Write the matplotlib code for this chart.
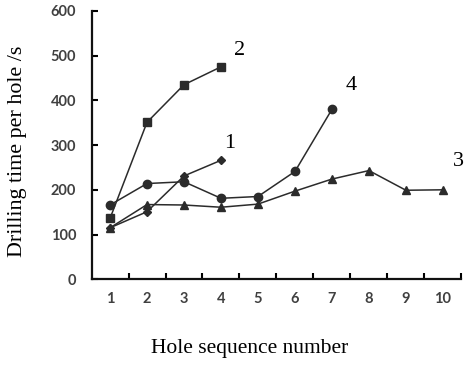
import matplotlib
matplotlib.use("Agg")
import matplotlib.pyplot as plt
from matplotlib.ticker import FixedLocator

holes = [1, 2, 3, 4, 5, 6, 7, 8, 9, 10]
curve1 = [115, 151, 231, 266]
curve2 = [136, 351, 435, 475]
curve3 = [115, 167, 166, 161, 168, 197, 224, 243, 199, 200]
curve4 = [166, 214, 218, 181, 185, 241, 380]
curve_labels = ["1", "2", "3", "4"]
yticks = [0, 100, 200, 300, 400, 500, 600]

fig = plt.figure(figsize=(4.67, 3.65), dpi=100)
ax = fig.add_axes([0.196, 0.235, 0.792, 0.735])

lc = "#2b2b2b"
kw = dict(color=lc, lw=1.1)
ax.plot(holes[:len(curve1)], curve1, marker="D", ms=4, **kw)
ax.plot(holes[:len(curve2)], curve2, marker="s", ms=6, **kw)
ax.plot(holes[:len(curve3)], curve3, marker="^", ms=6, **kw)
ax.plot(holes[:len(curve4)], curve4, marker="o", ms=6, **kw)

serif = "Liberation Serif"
tk = dict(fontsize=16, family=serif, ha="center", va="center", clip_on=False)
ax.text(4.49, 511, curve_labels[1], **tk)
ax.text(4.24, 303, curve_labels[0], **tk)
ax.text(7.51, 434, curve_labels[3], **tk)
ax.text(10.42, 263, curve_labels[2], **tk)

ax.set_xlim(0.5, 10.5)
ax.set_ylim(0, 600)
ax.set_yticks(yticks)
ax.set_xticks(holes)
ax.xaxis.set_minor_locator(FixedLocator([h + 0.5 for h in holes]))
ax.tick_params(axis="x", which="major", length=0, pad=9)
ax.tick_params(axis="x", which="minor", direction="in", length=4, width=1.5)
ax.tick_params(axis="y", which="major", direction="in", length=4, width=1.5, pad=11)
for lab in ax.get_xticklabels() + ax.get_yticklabels():
    lab.set_family("Lato")
    lab.set_fontweight("bold")
    lab.set_fontsize(10.5)
    lab.set_color("#404040")

for s in ["top", "right"]:
    ax.spines[s].set_visible(False)
for s in ["left", "bottom"]:
    ax.spines[s].set_linewidth(1.6)
    ax.spines[s].set_color("#111111")

ax.set_ylabel("Drilling time per hole /s", family=serif, fontsize=15.8, va="center")
ax.yaxis.set_label_coords(-0.199, 0.477)
ax.set_xlabel("Hole sequence number", family=serif, fontsize=15.5, va="center")
ax.xaxis.set_label_coords(0.428, -0.26)

fig.savefig("out.png", dpi=100)
